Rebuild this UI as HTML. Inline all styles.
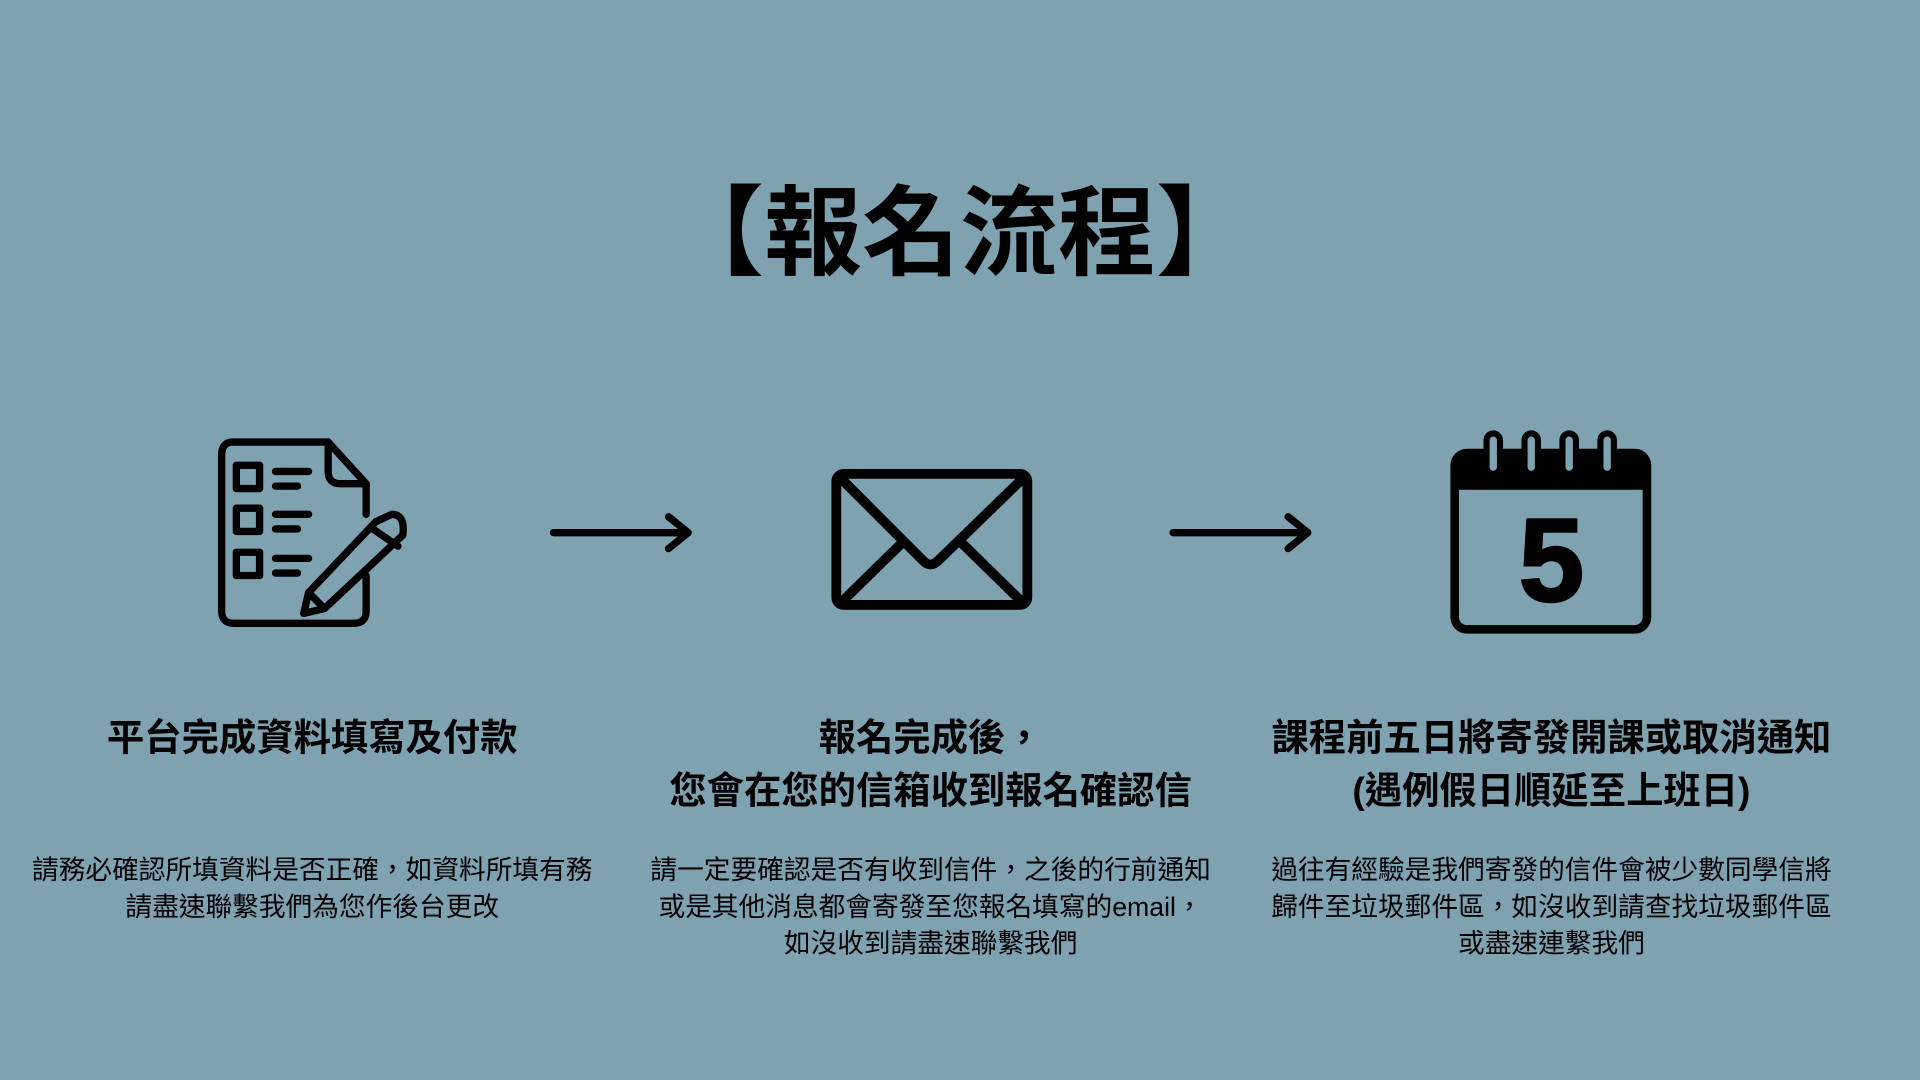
<!DOCTYPE html>
<html><head><meta charset="utf-8"><style>
html,body{margin:0;padding:0;background:#7FA2B1;}
svg{display:block}
text{font-family:"Liberation Sans","Noto Sans CJK TC",sans-serif;fill:#000}
</style></head><body>
<svg width="1920" height="1080" viewBox="0 0 1568 882" xmlns="http://www.w3.org/2000/svg">
<rect width="1568" height="882" fill="#7FA2B1"/>
<text x="784" y="218" text-anchor="middle" font-size="80" font-weight="bold">【報名流程】</text>

<g fill="none" stroke="#000" stroke-width="6" stroke-linejoin="round" stroke-linecap="round">
<path d="M268 361 H190 Q181 361 181 372 V499 Q181 509 191 509 H289 Q299 509 299 499 V470"/>
<path d="M268 361 L299 395 V420"/>
<path d="M268 361 V385 Q268 395 278 395 H299"/>
<rect x="193" y="380" width="19" height="19"/>
<rect x="193" y="415" width="19" height="19"/>
<rect x="193" y="451" width="19" height="19"/>
<path d="M225 385 H252 M225 397 H243 M225 420 H252 M225 432 H243 M225 456 H252 M225 468 H243"/>
<path d="M307 426 L320 420 Q331 420 329 437 L265 497 L248 501 L252 484 Z"/>
<path d="M252 484 L265 497 M303 431 L325 446"/>
</g>

<g stroke="#000" stroke-width="6" fill="none" stroke-linecap="round" stroke-linejoin="round">
<path d="M452 435 H560 M546 422 L562 435 L546 448"/>
<path d="M958 435 H1066 M1052 422 L1068 435 L1052 448"/>
</g>

<g fill="none" stroke="#000" stroke-width="8" stroke-linejoin="round" stroke-linecap="round">
<rect x="683" y="387" width="156" height="107" rx="6"/>
<path d="M688 392 L754 458 Q760 464 766 458 L834 392"/>
<path d="M689 490 L737 443 M833 490 L785 443"/>
</g>

<g>
<rect x="1188" y="370" width="157" height="144" rx="10" fill="none" stroke="#000" stroke-width="7"/>
<path d="M1188 380 Q1188 368 1200 368 H1333 Q1345 368 1345 380 V400 H1188 Z" fill="#000"/>
<g fill="#7FA2B1" stroke="#000" stroke-width="5">
<rect x="1214" y="354" width="11" height="33" rx="5.5"/>
<rect x="1245" y="354" width="11" height="33" rx="5.5"/>
<rect x="1276" y="354" width="11" height="33" rx="5.5"/>
<rect x="1307" y="354" width="11" height="33" rx="5.5"/>
</g>
<text x="1267" y="491" text-anchor="middle" font-size="96" font-weight="bold" stroke="#000" stroke-width="2">5</text>
</g>

<g font-size="30.5" font-weight="bold" text-anchor="middle">
<text x="255" y="613">平台完成資料填寫及付款</text>
<text x="760" y="613">報名完成後，</text>
<text x="760" y="656">您會在您的信箱收到報名確認信</text>
<text x="1267" y="613">課程前五日將寄發開課或取消通知</text>
<text x="1267" y="656">(遇例假日順延至上班日)</text>
</g>
<g font-size="21.8" text-anchor="middle" style="fill:#111">
<text x="255" y="718">請務必確認所填資料是否正確，如資料所填有務</text>
<text x="255" y="748">請盡速聯繫我們為您作後台更改</text>
<text x="760" y="718">請一定要確認是否有收到信件，之後的行前通知</text>
<text x="760" y="748">或是其他消息都會寄發至您報名填寫的email，</text>
<text x="760" y="778">如沒收到請盡速聯繫我們</text>
<text x="1267" y="718">過往有經驗是我們寄發的信件會被少數同學信將</text>
<text x="1267" y="748">歸件至垃圾郵件區，如沒收到請查找垃圾郵件區</text>
<text x="1267" y="778">或盡速連繫我們</text>
</g>
</svg>
</body></html>
